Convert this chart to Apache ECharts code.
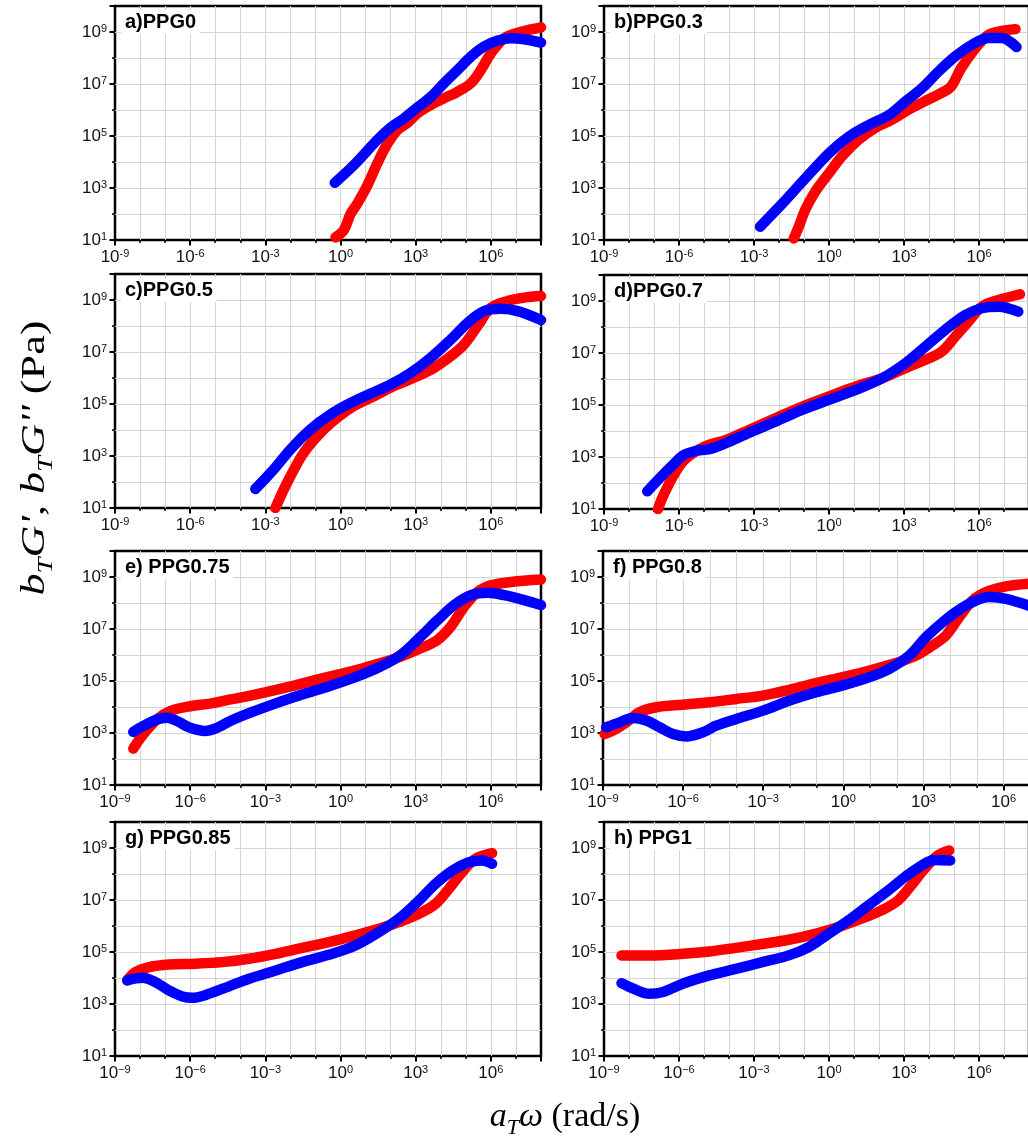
<!DOCTYPE html>
<html>
<head>
<meta charset="utf-8">
<script src="https://cdn.jsdelivr.net/npm/echarts@6/dist/echarts.min.js"></script>
<style>
  html, body { margin: 0; padding: 0; background: #fff; }
  #chart { width: 1028px; height: 1139px; }
</style>
</head>
<body>
<div id="chart"></div>
<script>
// Master curves, as [log10(aT·ω / rad s^-1), log10(bT·G / Pa)] pairs.
// Gp = storage modulus bT·G' (red), Gpp = loss modulus bT·G'' (blue).
const PPG0_Gp = [[-0.2,1.1],[0.13,1.38],[0.4,2.0],[0.67,2.4],[1.07,3.1],[1.47,3.95],[1.87,4.7],[2.27,5.23],[2.67,5.5],[3.07,5.87],[3.6,6.19],[4.13,6.45],[4.67,6.7],[5.2,7.03],[5.6,7.54],[6.0,8.18],[6.53,8.76],[7.07,8.97],[7.6,9.1],[8.0,9.18]];
const PPG0_Gpp = [[-0.23,3.2],[0.53,3.88],[1.47,4.85],[2.0,5.32],[2.53,5.68],[3.07,6.1],[3.6,6.5],[4.13,7.03],[4.67,7.54],[5.2,8.05],[5.73,8.44],[6.27,8.67],[6.8,8.76],[7.33,8.72],[8.0,8.59]];

const PPG03_Gp = [[-1.41,1.06],[-1.21,1.51],[-0.95,2.16],[-0.55,2.86],[0,3.57],[0.51,4.21],[1.17,4.85],[1.83,5.3],[2.5,5.62],[3.16,6.0],[3.82,6.33],[4.48,6.65],[4.88,6.9],[5.28,7.6],[5.81,8.32],[6.34,8.86],[6.87,9.03],[7.46,9.11]];
const PPG03_Gpp = [[-2.76,1.51],[-1.86,2.41],[-1.06,3.25],[0,4.34],[0.8,4.98],[1.6,5.43],[2.4,5.81],[3.06,6.33],[3.72,6.84],[4.38,7.48],[5.05,8.06],[5.72,8.51],[6.38,8.77],[6.91,8.77],[7.5,8.42]];

const PPG05_Gp = [[-2.6,1.0],[-2.33,1.58],[-2.0,2.22],[-1.47,3.12],[-0.8,3.89],[-0.13,4.47],[0.53,4.92],[1.33,5.3],[2.13,5.69],[2.93,6.01],[3.73,6.39],[4.4,6.84],[4.93,7.29],[5.47,8.0],[6.0,8.7],[6.67,8.96],[7.33,9.09],[8.0,9.15]];
const PPG05_Gpp = [[-3.4,1.73],[-2.67,2.48],[-2.0,3.25],[-1.2,4.02],[-0.4,4.6],[0.4,5.04],[1.2,5.4],[2.0,5.75],[2.8,6.2],[3.6,6.78],[4.4,7.48],[5.07,8.12],[5.73,8.57],[6.4,8.66],[7.07,8.57],[8.0,8.23]];

const PPG07_Gp = [[-6.84,1.0],[-6.64,1.49],[-6.24,2.25],[-5.84,2.83],[-5.44,3.15],[-4.91,3.43],[-4.11,3.66],[-3.18,4.05],[-2.12,4.5],[-1.06,4.94],[0,5.33],[1.07,5.71],[2.13,6.03],[3.06,6.42],[3.86,6.74],[4.52,7.06],[5.05,7.63],[5.58,8.21],[6.11,8.78],[6.78,9.04],[7.64,9.26]];
const PPG07_Gpp = [[-7.27,1.68],[-6.77,2.19],[-6.24,2.7],[-5.84,3.06],[-5.31,3.24],[-4.78,3.3],[-4.11,3.54],[-3.18,3.94],[-2.12,4.37],[-1.06,4.82],[0,5.2],[1.07,5.58],[2.13,6.03],[3.06,6.61],[3.86,7.25],[4.65,7.89],[5.45,8.46],[6.11,8.72],[6.78,8.78],[7.57,8.59]];

const PPG075_Gp = [[-8.27,2.4],[-7.87,2.95],[-7.33,3.52],[-6.8,3.84],[-6.0,4.03],[-5.2,4.13],[-4.4,4.29],[-3.6,4.44],[-2.53,4.67],[-1.47,4.92],[-0.4,5.18],[0.67,5.43],[1.6,5.69],[2.4,5.94],[3.2,6.26],[3.87,6.58],[4.4,7.09],[4.93,7.85],[5.47,8.43],[6.0,8.68],[6.8,8.81],[8.0,8.9]];
const PPG075_Gpp = [[-8.27,3.04],[-7.87,3.27],[-7.33,3.52],[-6.93,3.59],[-6.53,3.46],[-6.0,3.2],[-5.4,3.08],[-4.93,3.2],[-4.4,3.46],[-3.6,3.78],[-2.53,4.16],[-1.47,4.5],[-0.4,4.82],[0.67,5.18],[1.6,5.56],[2.4,6.0],[3.2,6.71],[3.87,7.34],[4.53,7.92],[5.2,8.3],[5.87,8.39],[6.53,8.3],[7.33,8.11],[8.0,7.92]];

const PPG08_Gp = [[-8.94,2.96],[-8.63,3.09],[-8.13,3.41],[-7.63,3.8],[-7.0,3.99],[-6.0,4.09],[-5.01,4.18],[-4.01,4.31],[-3.01,4.44],[-2.02,4.66],[-1.02,4.92],[-0.02,5.15],[0.98,5.4],[1.97,5.69],[2.72,5.98],[3.34,6.37],[3.84,6.75],[4.34,7.46],[4.84,8.1],[5.34,8.42],[6.09,8.64],[7.0,8.75]];
const PPG08_Gpp = [[-8.88,3.22],[-8.38,3.41],[-7.88,3.58],[-7.38,3.48],[-6.88,3.22],[-6.38,2.96],[-5.88,2.87],[-5.26,3.03],[-4.76,3.28],[-4.01,3.54],[-3.01,3.86],[-2.02,4.25],[-1.02,4.57],[-0.02,4.83],[0.98,5.15],[1.72,5.47],[2.47,5.98],[3.1,6.69],[3.72,7.26],[4.34,7.74],[4.97,8.1],[5.46,8.23],[6.09,8.16],[7.0,7.88]];

const PPG085_Gp = [[-8.51,3.91],[-8.18,4.23],[-7.64,4.42],[-6.85,4.52],[-5.78,4.55],[-4.72,4.61],[-3.65,4.74],[-2.59,4.93],[-1.53,5.16],[-0.47,5.38],[0.59,5.64],[1.52,5.89],[2.33,6.15],[3.13,6.47],[3.79,6.85],[4.32,7.43],[4.85,8.07],[5.38,8.58],[6.05,8.8]];
const PPG085_Gpp = [[-8.51,3.91],[-7.91,4.01],[-7.38,3.84],[-6.85,3.52],[-6.31,3.29],[-5.91,3.24],[-5.25,3.39],[-4.45,3.68],[-3.65,3.97],[-2.59,4.29],[-1.53,4.61],[-0.47,4.89],[0.59,5.25],[1.52,5.76],[2.33,6.28],[3.13,6.98],[3.79,7.62],[4.46,8.13],[5.12,8.45],[5.65,8.52],[6.05,8.39]];

const PPG1_Gp = [[-8.3,4.87],[-7.17,4.87],[-5.85,4.93],[-4.79,5.02],[-3.73,5.16],[-2.67,5.31],[-1.61,5.47],[-0.55,5.7],[0.38,5.96],[1.3,6.28],[2.1,6.6],[2.76,6.98],[3.29,7.56],[3.82,8.2],[4.35,8.71],[4.81,8.9]];
const PPG1_Gpp = [[-8.3,3.8],[-7.83,3.59],[-7.17,3.39],[-6.64,3.46],[-5.85,3.78],[-4.79,4.1],[-3.73,4.35],[-2.67,4.61],[-1.61,4.87],[-0.81,5.19],[-0.02,5.7],[0.77,6.21],[1.57,6.79],[2.36,7.36],[3.03,7.88],[3.69,8.32],[4.22,8.54],[4.85,8.52]];

// Panel captions and axis ranges (log10 decades)
const panelLabels = ['a)PPG0', 'b)PPG0.3', 'c)PPG0.5', 'd)PPG0.7', 'e) PPG0.75', 'f) PPG0.8', 'g) PPG0.85', 'h) PPG1'];
const storageCurves = [PPG0_Gp, PPG03_Gp, PPG05_Gp, PPG07_Gp, PPG075_Gp, PPG08_Gp, PPG085_Gp, PPG1_Gp];
const lossCurves = [PPG0_Gpp, PPG03_Gpp, PPG05_Gpp, PPG07_Gpp, PPG075_Gpp, PPG08_Gpp, PPG085_Gpp, PPG1_Gpp];
const xDecadeRange = [-9, 8];
const yDecadeRange = [1, 10];

// Panel placement (pixels) and the minus glyph used in exponent labels
const frames = [
  { left: 115, top: 6,   width: 426, minus: '-' },
  { left: 604, top: 6,   width: 425, minus: '-' },
  { left: 115, top: 274, width: 426, minus: '-' },
  { left: 604, top: 275, width: 425, minus: '-' },
  { left: 115, top: 551, width: 426, minus: '\u2212' },
  { left: 603, top: 551, width: 454, minus: '\u2212' },
  { left: 115, top: 822, width: 426, minus: '\u2212' },
  { left: 604, top: 822, width: 425, minus: '\u2212' }
];
const frameHeight = 234;

const tickFont = 'Arial, "Liberation Sans", sans-serif';
const serif = '"Times New Roman", "Liberation Serif", serif';
const powRich = {
  b: { fontFamily: tickFont, fontSize: 17, color: '#111', lineHeight: 18, verticalAlign: 'bottom' },
  s: { fontFamily: tickFont, fontSize: 11, color: '#111', lineHeight: 14, verticalAlign: 'top' }
};
function powLabel(exp, minus) {
  const e = exp < 0 ? minus + (-exp) : String(exp);
  return '{b|10}{s|' + e + '}';
}

const grid = [], xAxis = [], yAxis = [], series = [], title = [];
const noLine = { show: false, onZero: false };

frames.forEach((f, i) => {
  grid.push({
    left: f.left, top: f.top, width: f.width, height: frameHeight,
    show: true, borderColor: '#000', borderWidth: 2.5, backgroundColor: 'transparent',
    containLabel: false, outerBoundsMode: 'none'
  });
  // decade ticks + grid lines, labels every third decade
  xAxis.push({
    type: 'value', gridIndex: i, position: 'bottom', min: xDecadeRange[0], max: xDecadeRange[1], interval: 1,
    axisLine: noLine,
    axisTick: { show: true, length: 3, lineStyle: { color: '#000', width: 1.5 } },
    axisLabel: {
      show: true, margin: 8, rich: powRich,
      formatter: v => (Math.round(v) % 3 === 0 ? powLabel(Math.round(v), f.minus) : '')
    },
    splitLine: { show: true, showMinLine: false, showMaxLine: false, lineStyle: { color: '#d4d4d4', width: 1 } }
  });
  // longer ticks on the labelled decades
  xAxis.push({
    type: 'value', gridIndex: i, position: 'bottom', offset: 0, min: xDecadeRange[0], max: xDecadeRange[1], interval: 3,
    axisLine: noLine,
    axisTick: { show: true, length: 5.5, lineStyle: { color: '#000', width: 2 } },
    axisLabel: { show: false }, splitLine: { show: false }
  });
  yAxis.push({
    type: 'value', gridIndex: i, position: 'left', min: yDecadeRange[0], max: yDecadeRange[1], interval: 1,
    axisLine: noLine,
    axisTick: { show: true, length: 3, lineStyle: { color: '#000', width: 1.5 } },
    axisLabel: {
      show: true, margin: 8, rich: powRich,
      formatter: v => (Math.round(v) % 2 === 1 && v < yDecadeRange[1] ? powLabel(Math.round(v), f.minus) : '')
    },
    splitLine: { show: true, showMinLine: false, showMaxLine: false, lineStyle: { color: '#d4d4d4', width: 1 } }
  });
  // odd decades, counted from the bottom of the frame, get the longer ticks
  yAxis.push({
    type: 'value', gridIndex: i, position: 'left', offset: 0,
    min: 0, max: yDecadeRange[1] - yDecadeRange[0], interval: 2,
    axisLine: noLine,
    axisTick: { show: true, length: 5.5, lineStyle: { color: '#000', width: 2 } },
    axisLabel: { show: false }, splitLine: { show: false }
  });

  const lineBase = {
    type: 'line', xAxisIndex: 2 * i, yAxisIndex: 2 * i, showSymbol: false, symbol: 'none',
    smooth: 0.35, clip: true, silent: true
  };
  series.push(Object.assign({}, lineBase, {
    name: "G'", z: 2, data: storageCurves[i],
    lineStyle: { color: '#ff0000', width: 10.5, cap: 'round', join: 'round' }
  }));
  series.push(Object.assign({}, lineBase, {
    name: "G''", z: 3, data: lossCurves[i],
    lineStyle: { color: '#0000ff', width: 10.5, cap: 'round', join: 'round' }
  }));

  title.push({
    text: panelLabels[i], left: f.left + 6, top: f.top + 4,
    backgroundColor: '#fff', padding: [2, 4, 2, 4],
    textStyle: { fontFamily: tickFont, fontSize: 20, fontWeight: 'bold', color: '#000' }
  });
});

const titleRich = {
  i: { fontFamily: serif, fontStyle: 'italic', fontSize: 34, lineHeight: 44, fill: '#000' },
  n: { fontFamily: serif, fontSize: 34, lineHeight: 44, fill: '#000' },
  s: { fontFamily: serif, fontStyle: 'italic', fontSize: 22, lineHeight: 22, verticalAlign: 'bottom', fill: '#000' }
};

const chart = echarts.init(document.getElementById('chart'), null, { renderer: 'canvas' });
chart.setOption({
  animation: false,
  backgroundColor: '#fff',
  title, grid, xAxis, yAxis, series,
  graphic: [
    {
      type: 'text', x: 35, y: 458, rotation: Math.PI / 2, scaleX: 1.3,
      style: {
        text: "{i|b}{s|T}{i|G'}{n|, }{i|b}{s|T}{i|G''}{n| (Pa)}",
        align: 'center', verticalAlign: 'middle', rich: titleRich
      }
    },
    {
      type: 'text', x: 565, y: 1117,
      style: {
        text: '{i|a}{s|T}{i|\u03c9}{n| (rad/s)}',
        align: 'center', verticalAlign: 'middle', rich: titleRich
      }
    }
  ]
});
</script>
</body>
</html>
